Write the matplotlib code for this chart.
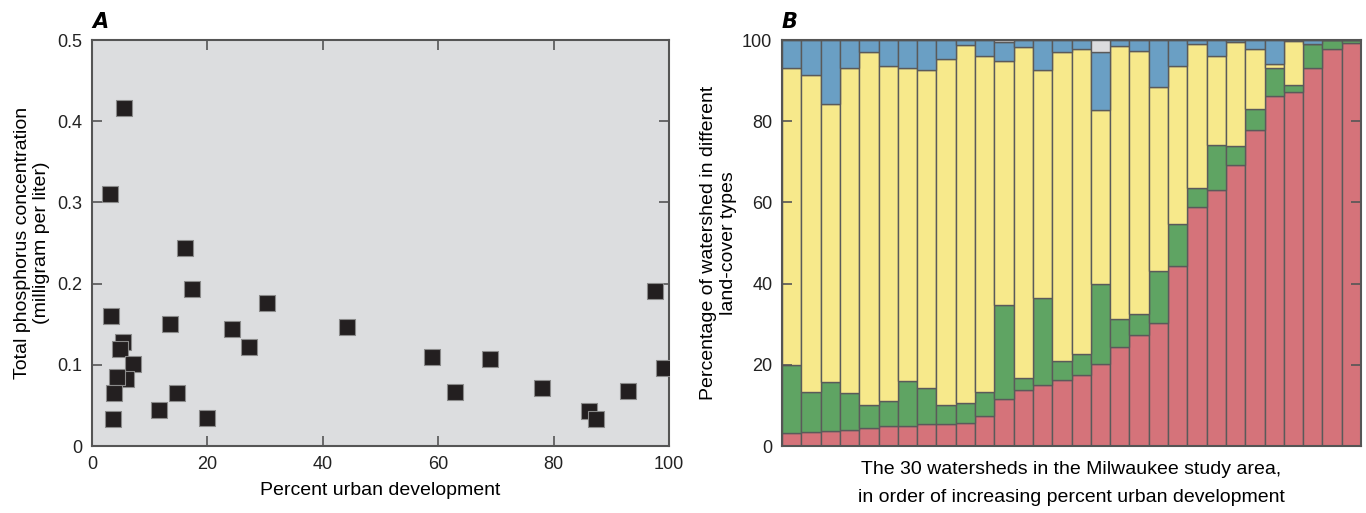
import numpy as np
import matplotlib.pyplot as plt
from matplotlib.ticker import FixedLocator, FixedFormatter

# Panel A: scatter of urban development vs total phosphorus
urban_pct = [5.5, 3.1, 16.2, 17.4, 3.35, 13.6, 30.3, 24.3, 27.2, 44.2,
             5.3, 4.85, 7.2, 5.9, 4.3, 3.8, 14.7, 11.6, 3.6, 20.0,
             59.0, 62.9, 69.0, 78.0, 86.1, 87.3, 92.9, 97.6, 99.2]
phosphorus = [0.416, 0.310, 0.244, 0.193, 0.160, 0.150, 0.176, 0.144, 0.122, 0.146,
              0.128, 0.119, 0.101, 0.082, 0.085, 0.065, 0.065, 0.044, 0.033, 0.035,
              0.110, 0.066, 0.107, 0.072, 0.043, 0.033, 0.068, 0.191, 0.096]

# Panel B: land-cover stacks (cumulative tops)
urban_top = [3.1, 3.5, 3.8, 4.0, 4.4, 4.9, 4.9, 5.3, 5.5, 5.6,
             7.5, 11.6, 13.8, 15.0, 16.3, 17.6, 20.2, 24.4, 27.3, 30.4,
             44.4, 58.8, 63.0, 69.1, 77.9, 86.2, 87.3, 93.0, 97.7, 99.3]
forest_top = [19.9, 13.3, 15.8, 13.0, 10.2, 11.0, 16.0, 14.2, 10.0, 10.7,
              13.2, 34.7, 16.7, 36.4, 21.0, 22.6, 39.9, 31.2, 32.5, 43.0,
              54.7, 63.5, 74.2, 73.8, 83.0, 93.2, 88.8, 99.0, 100.0, 100.0]
agri_top = [93.2, 91.5, 84.2, 93.0, 97.1, 93.7, 93.2, 92.6, 95.4, 98.7,
            96.0, 94.8, 98.2, 92.6, 97.0, 97.9, 82.8, 98.6, 97.3, 88.5,
            93.6, 98.9, 96.0, 99.4, 97.9, 94.2, 99.7, 99.0, 100.0, 100.0]
water_top = [100.0, 100.0, 100.0, 100.0, 100.0, 100.0, 100.0, 100.0, 100.0, 100.0,
             100.0, 99.6, 100.0, 100.0, 100.0, 100.0, 97.1, 100.0, 100.0, 100.0,
             100.0, 100.0, 100.0, 100.0, 100.0, 100.0, 100.0, 100.0, 100.0, 100.0]
other_top = [100.0] * 30

plt.rcParams['font.family'] = ['Liberation Sans Narrow', 'Liberation Sans', 'DejaVu Sans']
plt.rcParams['font.size'] = 12

spine_c = "#555555"
fig = plt.figure(figsize=(13.66, 5.13), dpi=100)

# ---- Panel A
ax1 = fig.add_axes([0.0673, 0.1306, 0.4224, 0.7914])
ax1.set_facecolor("#dcdddf")
ax1.scatter(urban_pct, phosphorus, marker="s", s=145, c="#231f20",
            edgecolors="#8a8a8a", linewidths=0.8, zorder=3)
ax1.set_xlim(0, 100)
ax1.set_ylim(0, 0.5)
ax1.xaxis.set_major_locator(FixedLocator([0, 20, 40, 60, 80, 100]))
ax1.yaxis.set_major_locator(FixedLocator([0, 0.1, 0.2, 0.3, 0.4, 0.5]))
ax1.yaxis.set_major_formatter(FixedFormatter(["0", "0.1", "0.2", "0.3", "0.4", "0.5"]))
ax1.tick_params(direction="in", length=7, width=1.2, color=spine_c,
                top=True, right=True, labelsize=13, pad=7)
ax1.set_xlabel("Percent urban development", fontsize=14, labelpad=7)
ax1.set_ylabel("Total phosphorus concentration\n(milligram per liter)",
               fontsize=14, labelpad=5, linespacing=1.2)
ax1.text(0.0, 1.02, "A", transform=ax1.transAxes, fontsize=15,
         fontweight="bold", fontstyle="italic", ha="left", va="bottom",
         family=["DejaVu Sans"])

# ---- Panel B
ax2 = fig.add_axes([0.5725, 0.1306, 0.4239, 0.7914])
idx = np.arange(30)
layers = [
    (np.zeros(30), urban_top, "#d5737a"),
    (urban_top, forest_top, "#5fa463"),
    (forest_top, agri_top, "#f7e98b"),
    (agri_top, water_top, "#6a9fc4"),
    (water_top, other_top, "#dcdcde"),
]
for lo, hi, col in layers:
    lo = np.asarray(lo)
    hi = np.asarray(hi)
    ax2.bar(idx, hi - lo, bottom=lo, width=1.0, color=col,
            edgecolor="#5a5a5a", linewidth=1.0)
ax2.set_xlim(-0.5, 29.5)
ax2.set_ylim(0, 100)
ax2.set_xticks([])
ax2.yaxis.set_major_locator(FixedLocator([0, 20, 40, 60, 80, 100]))
ax2.tick_params(axis="y", direction="in", length=7, width=1.2, color=spine_c,
                right=True, labelsize=13, pad=7)
ax2.set_xlabel("The 30 watersheds in the Milwaukee study area,\n"
               "in order of increasing percent urban development",
               fontsize=14, labelpad=11, linespacing=1.8)
ax2.set_ylabel("Percentage of watershed in different\nland-cover types",
               fontsize=14, labelpad=4, linespacing=1.2)
ax2.text(0.0, 1.02, "B", transform=ax2.transAxes, fontsize=15,
         fontweight="bold", fontstyle="italic", ha="left", va="bottom",
         family=["DejaVu Sans"])

for ax in (ax1, ax2):
    for sp in ax.spines.values():
        sp.set_color(spine_c)
        sp.set_linewidth(1.5)
    ax.tick_params(labelcolor="#222222")

fig.savefig("out.png", dpi=100)
